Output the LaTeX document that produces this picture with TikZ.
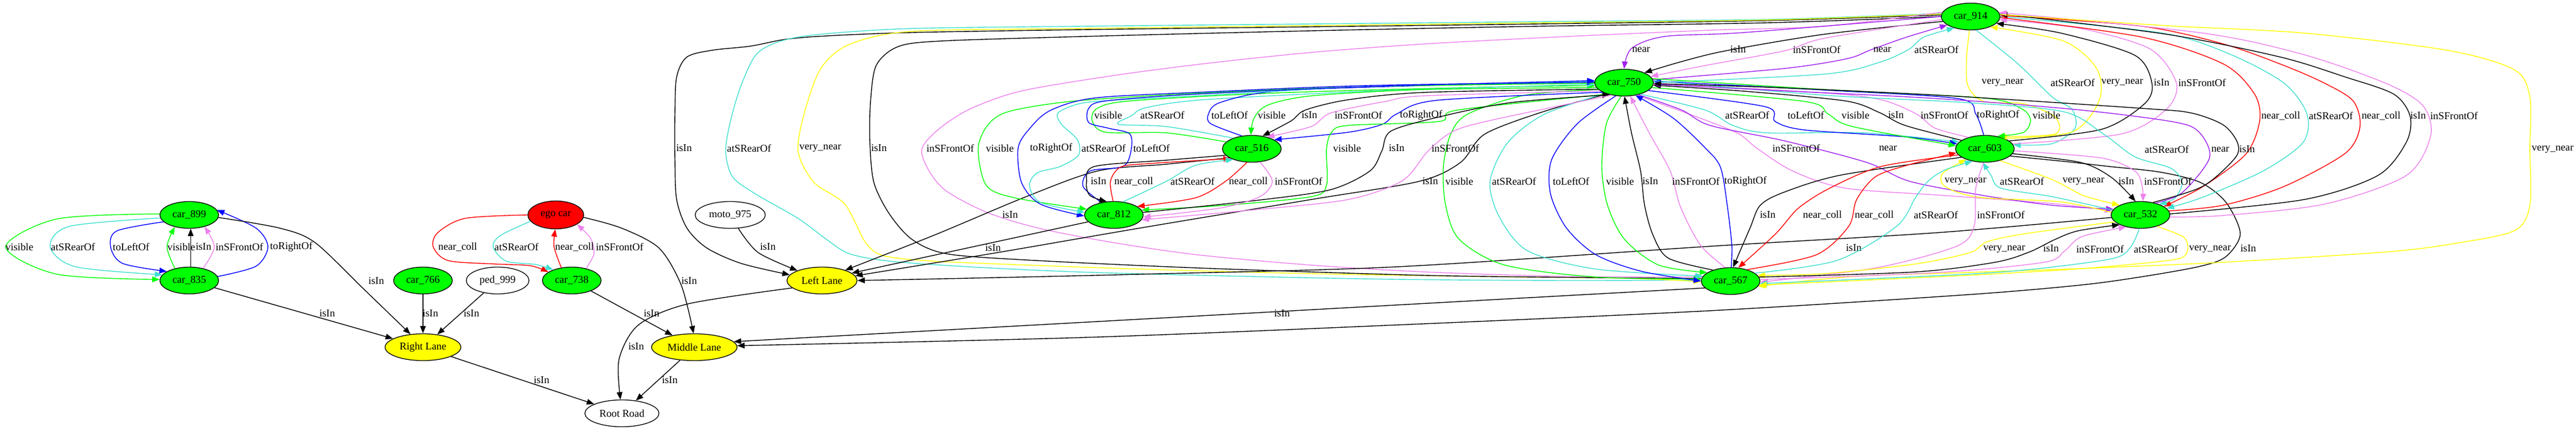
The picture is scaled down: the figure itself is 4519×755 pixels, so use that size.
\documentclass[tikz,border=0pt]{standalone}
\usepackage{fontspec}
\setmainfont{Liberation Serif}
\usetikzlibrary{shapes.geometric,arrows.meta}
\definecolor{gvgreen}{HTML}{00FF00}
\definecolor{gvyellow}{HTML}{FFFF00}
\definecolor{gvred}{HTML}{FF0000}
\definecolor{gvblue}{HTML}{0000FF}
\definecolor{gvturq}{HTML}{40E0D0}
\definecolor{gvviol}{HTML}{EE82EE}
\definecolor{gvpurp}{HTML}{A020F0}
\newcommand\gvfont{\fontsize{18.3}{20}\selectfont}
\newcommand\elab[3]{\node[lbl] (#1) at (#2) {#3};}
\tikzset{
  nd/.style={ellipse, draw=black, line width=1.3pt, minimum height=47pt, inner sep=0pt, font=\gvfont},
  car/.style={nd, fill=gvgreen, minimum width=103pt},
  lane/.style={nd, fill=gvyellow},
  wnode/.style={nd, fill=white},
  lbl/.style={font=\gvfont, inner sep=0pt},
  ed/.style={line width=1.4pt, -{Triangle[length=13pt,width=10pt]}},
  ek/.style={ed, draw=black},
  eg/.style={ed, draw=gvgreen},
  et/.style={ed, draw=gvturq},
  eb/.style={ed, draw=gvblue},
  ev/.style={ed, draw=gvviol},
  ep/.style={ed, draw=gvpurp},
  er/.style={ed, draw=gvred},
  ey/.style={ed, draw=gvyellow},
}
\begin{document}
\begin{tikzpicture}[x=1pt,y=-1pt]
\useasboundingbox[fill=white] (0,0) rectangle (4519,755);
% nodes
\node[car] (c914) at (3457,29) {car\_914};
\node[car] (c750) at (2849,145) {car\_750};
\node[car] (c516) at (2196,261) {car\_516};
\node[car] (c603) at (3482,261) {car\_603};
\node[car] (c812) at (1954,377) {car\_812};
\node[car] (c532) at (3755,377) {car\_532};
\node[car] (c899) at (332,377) {car\_899};
\node[nd, fill=gvred, minimum width=98pt, minimum height=49pt] (ego) at (975,377) {ego car};
\node[wnode, minimum width=123pt] (moto) at (1281,377) {moto\_975};
\node[car] (c835) at (332,492) {car\_835};
\node[car] (c766) at (742,492) {car\_766};
\node[wnode, minimum width=110pt] (ped) at (873,492) {ped\_999};
\node[car] (c738) at (1003,492) {car\_738};
\node[lane, minimum width=123pt] (left) at (1442,492) {Left Lane};
\node[car] (c567) at (3036,493) {car\_567};
\node[lane, minimum width=133pt] (right) at (742,609) {Right Lane};
\node[lane, minimum width=150pt] (middle) at (1218,609) {Middle Lane};
\node[wnode, minimum width=130pt] (root) at (1091,725) {Root Road};
% left cluster
\draw[eg] plot[smooth] coordinates {(c899.178) (100,384) (10,433) (100,481) (c835.178)};
\draw[et] plot[smooth] coordinates {(c899.186) (122,397) (88,433) (133,468) (c835.168)};
\draw[eb] plot[smooth] coordinates {(c899.195) (205,405) (194,433) (215,462) (c835.158)};
\draw[eg] plot[smooth] coordinates {(c835.140) (293,433) (c899.220)};
\draw[ek] (c835.84) -- (c899.276);
\draw[ev] plot[smooth] coordinates {(c835.41) (376,433) (c899.-38)};
\draw[eb] plot[smooth] coordinates {(c835.8) (449,467) (470,433) (449,400) (c899.10)};
\draw[ek] plot[smooth] coordinates {(c899.-5) (490,400) (552,425) (636,505) (right.134)};
\draw[ek] (c835) -- (right);
\draw[ek] (c766) -- (right);
\draw[ek] (ped) -- (right);
\draw[ek] (right) -- (root);
\elab{l1}{34,433}{visible}
\elab{l2}{128,433}{atSRearOf}
\elab{l3}{230,433}{toLeftOf}
\elab{l4}{318,433}{visible}
\elab{l5}{357,433}{isIn}
\elab{l6}{420,433}{inSFrontOf}
\elab{l7}{511,433}{toRightOf}
\elab{l8}{660,493}{isIn}
\elab{l9}{574,550}{isIn}
\elab{l10}{755,550}{isIn}
\elab{l11}{827,550}{isIn}
\elab{l12}{950,667}{isIn}
% ego cluster
\draw[er] plot[smooth] coordinates {(ego.180) (816,383) (768,408) (760,433) (786,457) (867,463) (930,466) (c738.160)};
\draw[et] plot[smooth] coordinates {(ego.194) (878,413) (865,433) (888,458) (940,464) (c738.150)};
\draw[er] plot[smooth] coordinates {(c738.129) (972,433) (ego.268)};
\draw[ev] plot[smooth] coordinates {(c738.40) (1042,445) (1036,418) (ego.-24)};
\draw[ek] plot[smooth] coordinates {(ego.-5) (1090,400) (1156,435) (1195,500) (middle.93)};
\draw[ek] (c738) -- (middle);
\draw[ek] plot[smooth] coordinates {(moto.-59) (1330,443) (left.158)};
\draw[ek] plot[smooth] coordinates {(left.194) (1207,533) (1120,570) (1086,630) (root.96)};
\draw[ek] (middle) -- (root);
\elab{l13}{803,433}{near\_coll}
\elab{l14}{906,433}{atSRearOf}
\elab{l15}{1008,433}{near\_coll}
\elab{l16}{1087,433}{inSFrontOf}
\elab{l17}{1209,493}{isIn}
\elab{l18}{1143,550}{isIn}
\elab{l19}{1347,433}{isIn}
\elab{l20}{1116,608}{isIn}
\elab{l21}{1175,667}{isIn}
% long edges from car_914 to the left
\draw[ek] plot[smooth] coordinates {(c914.177) (3100,36) (2700,42) (2300,47) (1900,52) (1600,57) (1450,63) (1378,69) (1316,81) (1250,88) (1205,100) (1187,135) (1184,200) (1184,280) (1187,350) (1205,400) (1240,435) (1300,462) (left.170)};
\draw[et] plot[smooth] coordinates {(c914.174) (3100,34) (2700,38) (2300,42) (1900,46) (1600,50) (1440,60) (1370,72) (1327,95) (1300,150) (1282,210) (1273,265) (1285,310) (1325,340) (1400,383) (1450,420) (1490,445) (1560,458) (1700,468) (1891,477) (2150,484) (2450,490) (2750,492) (c567.178)};
\draw[ey] plot[smooth] coordinates {(c914.175) (3100,35) (2700,40) (2300,45) (1900,50) (1600,55) (1490,78) (1440,120) (1412,195) (1400,265) (1428,320) (1482,358) (1518,425) (1548,448) (1620,457) (1751,463) (2000,472) (2300,480) (2600,485) (2850,488) (c567.181)};
\draw[ek] plot[smooth] coordinates {(c914.180) (3100,40) (2700,46) (2300,54) (1900,64) (1650,72) (1575,82) (1537,115) (1527,180) (1526,250) (1533,320) (1560,375) (1600,420) (1660,445) (1800,456) (2101,470) (2500,483) (2800,487) (c567.175)};
\draw[ev] plot[smooth] coordinates {(c914.171) (3200,46) (3000,53) (2750,64) (2500,77) (2300,92) (2110,112) (1950,133) (1790,160) (1700,192) (1645,228) (1617,262) (1630,300) (1660,335) (1730,372) (1821,400) (1950,425) (2101,447) (2300,465) (2500,477) (2750,485) (c567.172)};
\draw[ek] plot[smooth] coordinates {(c516.202) (2046,288) (1925,300) (1800,345) (1640,412) (left.24)};
\draw[ek] (c812.195) -- (left.14);
\draw[ek] plot[smooth] coordinates {(c750.214) (2710,195) (2605,235) (2562,285) (2490,318) (2300,350) (2000,400) (1750,443) (left.8)};
\draw[ek] plot[smooth] coordinates {(c532.185) (3400,408) (3000,432) (2450,468) (2000,481) (1700,488) (left.0)};
\draw[ek] (c567.195) -- (middle.8);
\draw[ek] plot[smooth] coordinates {(c603.-16) (3620,283) (3700,292) (3790,302) (3860,320) (3905,355) (3930,410) (3905,450) (3860,467) (3760,485) (3650,500) (3450,517) (3000,545) (2450,570) (1900,592) (middle.2)};
\elab{l22}{1200,260}{isIn}
\elab{l23}{1314,260}{atSRearOf}
\elab{l24}{1439,260}{very\_near}
\elab{l25}{1542,260}{isIn}
\elab{l26}{1667,260}{inSFrontOf}
\elab{l27}{1772,377}{isIn}
\elab{l28}{1742,435}{isIn}
\elab{l29}{2509,318}{isIn}
\elab{l30}{3252,435}{isIn}
\elab{l31}{2249,550}{isIn}
\elab{l32}{3944,436}{isIn}
% car_914 <-> car_750
\draw[ep] plot[smooth] coordinates {(c914.180) (3060,57) (2920,64) (2862,85) (c750.90)};
\draw[ek] plot[smooth] coordinates {(c914.190) (3201,60) (3028,89) (2950,108) (c750.26)};
\draw[ev] plot[smooth] coordinates {(c914.186) (3201,67) (3131,89) (2991,115) (c750.13)};
\draw[ep] plot[smooth] coordinates {(c750.6) (3131,120) (3240,103) (3283,87) (3345,65) (c914.200)};
\draw[et] plot[smooth] coordinates {(c750.0) (3200,130) (3295,110) (3348,87) (3375,65) (c914.215)};
\elab{l33}{2879,87}{near}
\elab{l34}{3049,87}{isIn}
\elab{l35}{3187,87}{inSFrontOf}
\elab{l36}{3302,87}{near}
\elab{l37}{3397,87}{atSRearOf}
% car_914 <-> car_603
\draw[ey] plot[smooth] coordinates {(c914.265) (3450,100) (3452,150) (3480,178) (3550,182) (3605,205) (3605,235) (c603.40)};
\draw[et] plot[smooth] coordinates {(c914.292) (3540,112) (3600,170) (3635,192) (3640,225) (3600,252) (c603.8)};
\draw[ey] plot[smooth] coordinates {(c603.28) (3636,231) (3683,175) (3678,120) (3620,72) (c914.-28)};
\draw[ek] plot[smooth] coordinates {(c603.18) (3686,227) (3762,182) (3775,146) (3745,97) (3615,58) (c914.-15)};
\draw[ev] plot[smooth] coordinates {(c603.10) (3721,235) (3800,192) (3818,146) (3772,86) (3650,50) (c914.-6)};
\elab{l38}{3513,145}{very\_near}
\elab{l39}{3636,145}{atSRearOf}
\elab{l40}{3723,145}{very\_near}
\elab{l41}{3792,145}{isIn}
\elab{l42}{3863,145}{inSFrontOf}
% car_914 <-> car_532
\draw[er] plot[smooth] coordinates {(c914.-2) (3757,65) (3900,112) (3955,165) (3964,212) (3940,270) (3865,327) (c532.20)};
\draw[et] plot[smooth] coordinates {(c914.0) (3793,58) (3914,96) (4007,146) (4047,200) (4040,250) (3970,300) (3864,346) (c532.14)};
\draw[er] plot[smooth] coordinates {(c532.8) (3900,360) (4007,327) (4114,269) (4140,222) (4128,177) (4078,146) (4007,115) (3900,77) (3757,46) (c914.2)};
\draw[ek] plot[smooth] coordinates {(c532.2) (4042,350) (4171,308) (4221,250) (4228,204) (4199,165) (4114,135) (4000,100) (3800,60) (c914.5)};
\draw[ev] plot[smooth] coordinates {(c532.-4) (3900,378) (4078,358) (4221,308) (4264,238) (4250,185) (4185,146) (4042,96) (3864,58) (c914.8)};
\draw[ey] plot[smooth] coordinates {(c914.4) (3800,45) (4042,58) (4292,88) (4410,122) (4438,170) (4438,260) (4438,360) (4410,405) (4300,428) (4185,442) (3900,460) (3650,471) (3450,478) (3250,485) (c567.-11)};
\elab{l43}{4001,203}{near\_coll}
\elab{l44}{4089,203}{atSRearOf}
\elab{l45}{4177,203}{near\_coll}
\elab{l46}{4242,203}{isIn}
\elab{l47}{4305,203}{inSFrontOf}
\elab{l48}{4478,262}{very\_near}
% car_750 <-> car_603
\draw[et] plot[smooth] coordinates {(c750.-35) (2991,193) (3040,220) (3100,233) (3270,233) (c603.165)};
\draw[eb] plot[smooth] coordinates {(c750.-18) (3096,187) (3114,213) (3166,228) (3342,240) (c603.170)};
\draw[eg] plot[smooth] coordinates {(c750.-10) (3166,178) (3207,200) (3250,222) (c603.174)};
\draw[ek] plot[smooth] coordinates {(c603.160) (3342,220) (3296,197) (3237,177) (3060,160) (c750.-5)};
\draw[ev] plot[smooth] coordinates {(c603.145) (3395,225) (3362,200) (3300,175) (3200,163) (c750.-1)};
\draw[eb] plot[smooth] coordinates {(c603.95) (3466,200) (3435,173) (3200,158) (c750.3)};
\draw[eg] plot[smooth] coordinates {(c750.8) (3200,157) (3480,172) (3545,190) (3562,210) (3550,232) (c603.45)};
\elab{l49}{3065,202}{atSRearOf}
\elab{l50}{3168,202}{toLeftOf}
\elab{l51}{3255,202}{visible}
\elab{l52}{3326,202}{isIn}
\elab{l53}{3411,202}{inSFrontOf}
\elab{l54}{3505,202}{toRightOf}
\elab{l55}{3590,202}{visible}
% car_750 <-> car_532
\draw[ev] plot[smooth] coordinates {(c750.-45) (2963,200) (3047,233) (3082,260) (3145,300) (3237,330) (3412,343) (3600,357) (c532.172)};
\draw[ep] plot[smooth] coordinates {(c750.-40) (2950,193) (3000,220) (3130,247) (3275,285) (3350,318) (3480,343) (3600,360) (c532.168)};
\draw[et] plot[smooth] coordinates {(c750.4) (3200,167) (3450,180) (3620,196) (3690,235) (3745,275) (3808,295) (3828,320) (3815,348) (c532.30)};
\draw[ep] plot[smooth] coordinates {(c532.38) (3828,338) (3876,277) (3858,232) (3814,214) (3650,193) (3400,173) (3100,158) (c750.-3)};
\draw[ek] plot[smooth] coordinates {(c532.45) (3864,327) (3921,277) (3925,250) (3900,219) (3843,198) (3757,190) (3400,167) (3100,153) (c750.-2)};
\elab{l56}{3151,260}{inSFrontOf}
\elab{l57}{3312,260}{near}
\elab{l58}{3801,262}{atSRearOf}
\elab{l59}{3895,262}{near}
\elab{l60}{3942,262}{isIn}
% car_603 <-> car_532
\draw[ey] plot[smooth] coordinates {(c532.175) (3614,354) (3471,346) (3412,327) (3408,304) (c603.210)};
\draw[et] plot[smooth] coordinates {(c532.170) (3600,345) (3510,330) (3493,308) (c603.262)};
\draw[ey] plot[smooth] coordinates {(c603.-38) (3600,315) (3655,343) (c532.155)};
\draw[ek] plot[smooth] coordinates {(c603.-10) (3650,285) (3705,312) (c532.110)};
\draw[ev] plot[smooth] coordinates {(c603.-4) (3686,277) (3745,300) (3758,327) (c532.80)};
\elab{l61}{3448,318}{very\_near}
\elab{l62}{3547,318}{atSRearOf}
\elab{l63}{3655,318}{very\_near}
\elab{l64}{3730,318}{isIn}
\elab{l65}{3803,318}{inSFrontOf}
% car_603 <-> car_567
\draw[ek] plot[smooth] coordinates {(c603.200) (3230,307) (3130,337) (3088,360) (3070,400) (c567.80)};
\draw[er] plot[smooth] coordinates {(c603.193) (3300,292) (3210,330) (3155,365) (3115,410) (c567.60)};
\draw[er] plot[smooth] coordinates {(c567.35) (3186,447) (3243,397) (3257,350) (3290,310) (3345,290) (c603.188)};
\draw[et] plot[smooth] coordinates {(c567.18) (3222,457) (3327,397) (3360,347) (3382,318) (3412,298) (c603.225)};
\draw[ev] plot[smooth] coordinates {(c603.-95) (3466,330) (3463,397) (3432,432) (3290,470) (c567.-2)};
\elab{l66}{3101,377}{isIn}
\elab{l67}{3197,377}{near\_coll}
\elab{l68}{3288,377}{near\_coll}
\elab{l69}{3396,377}{atSRearOf}
\elab{l70}{3510,377}{inSFrontOf}
% car_532 <-> car_567
\draw[ey] plot[smooth] coordinates {(c532.195) (3552,410) (3486,424) (3456,443) (3360,463) (3200,480) (c567.12)};
\draw[ek] plot[smooth] coordinates {(c567.8) (3360,477) (3500,460) (3560,442) (3605,420) (3645,405) (c532.205)};
\draw[ev] plot[smooth] coordinates {(c567.3) (3400,478) (3586,460) (3622,440) (3652,415) (c532.220)};
\draw[et] plot[smooth] coordinates {(c532.265) (3738,433) (3708,453) (3586,470) (3450,481) (c567.-5)};
\draw[ey] plot[smooth] coordinates {(c532.-35) (3832,417) (3836,443) (3810,456) (3654,471) (3450,483) (c567.-8)};
\elab{l71}{3516,437}{very\_near}
\elab{l72}{3598,436}{isIn}
\elab{l73}{3684,437}{inSFrontOf}
\elab{l74}{3782,437}{atSRearOf}
\elab{l75}{3877,437}{very\_near}
% car_750 <-> car_567
\draw[eg] plot[smooth] coordinates {(c750.195) (2675,167) (2575,200) (2545,235) (2532,293) (2536,360) (2560,420) (2640,465) (2800,486) (c567.176)};
\draw[et] plot[smooth] coordinates {(c750.210) (2710,200) (2645,250) (2614,318) (2630,380) (2680,440) (2800,472) (c567.170)};
\draw[eb] plot[smooth] coordinates {(c750.238) (2767,217) (2722,280) (2720,340) (2748,400) (2800,447) (2880,476) (c567.180)};
\draw[eg] plot[smooth] coordinates {(c750.258) (2818,217) (2810,293) (2820,360) (2850,420) (2910,465) (c567.160)};
\draw[ek] plot[smooth] coordinates {(c567.148) (2927,453) (2900,413) (2885,360) (2878,300) (2862,233) (c750.272)};
\draw[ev] plot[smooth] coordinates {(c567.112) (2983,430) (2948,363) (2930,300) (2893,233) (c750.295)};
\draw[eb] plot[smooth] coordinates {(c567.88) (3038,430) (3030,360) (3018,293) (2990,258) (2935,207) (c750.-48)};
\elab{l76}{2560,318}{visible}
\elab{l77}{2656,318}{atSRearOf}
\elab{l78}{2756,318}{toLeftOf}
\elab{l79}{2842,318}{visible}
\elab{l80}{2895,318}{isIn}
\elab{l81}{2975,318}{inSFrontOf}
\elab{l82}{3062,318}{toRightOf}
% car_750 <-> car_516
\draw[eg] plot[smooth] coordinates {(c516.165) (2046,233) (1940,232) (1916,212) (1925,190) (1983,177) (2238,163) (2600,153) (c750.186)};
\draw[et] plot[smooth] coordinates {(c516.150) (2046,222) (1962,218) (1985,203) (2010,189) (2110,175) (2400,160) (2650,152) (c750.183)};
\draw[eb] plot[smooth] coordinates {(c516.128) (2124,217) (2120,200) (2140,180) (2238,160) (2500,150) (c750.179)};
\draw[eg] plot[smooth] coordinates {(c750.190) (2500,157) (2302,168) (2225,184) (2200,207) (c516.94)};
\draw[ek] plot[smooth] coordinates {(c750.194) (2500,162) (2365,175) (2290,193) (2265,212) (c516.50)};
\draw[ev] plot[smooth] coordinates {(c750.199) (2500,168) (2430,178) (2335,198) (2300,222) (c516.38)};
\draw[eb] plot[smooth] coordinates {(c750.204) (2520,176) (2450,200) (2425,218) (2365,232) (c516.22)};
\elab{l83}{1944,202}{visible}
\elab{l84}{2039,202}{atSRearOf}
\elab{l85}{2157,202}{toLeftOf}
\elab{l86}{2231,202}{visible}
\elab{l87}{2297,202}{isIn}
\elab{l88}{2383,202}{inSFrontOf}
\elab{l89}{2493,202}{toRightOf}
% car_750 <-> car_812
\draw[eg] plot[smooth] coordinates {(c750.181) (2400,152) (2110,163) (1887,177) (1772,195) (1734,218) (1716,260) (1730,325) (1780,347) (c812.168)};
\draw[eb] plot[smooth] coordinates {(c750.179) (2400,150) (2100,162) (1919,172) (1842,194) (1805,227) (1786,260) (1792,320) (1825,358) (c812.182)};
\draw[et] plot[smooth] coordinates {(c750.177) (2400,152) (2100,168) (1950,176) (1893,182) (1856,198) (1862,218) (1890,245) (1892,272) (1860,292) (1820,303) (1806,325) (1825,355) (c812.175)};
\draw[eb] plot[smooth] coordinates {(c812.135) (1900,327) (1912,300) (1970,292) (1984,265) (1982,235) (1945,225) (1910,215) (1910,190) (1940,177) (2100,165) (2400,152) (c750.176)};
\draw[eg] plot[smooth] coordinates {(c750.215) (2557,193) (2525,213) (2365,220) (2336,232) (2327,262) (2327,325) (2300,345) (2150,360) (c812.10)};
\draw[ek] plot[smooth] coordinates {(c812.5) (2200,352) (2333,333) (2403,300) (2424,265) (2440,230) (2525,205) (2650,180) (c750.220)};
\draw[ev] plot[smooth] coordinates {(c750.225) (2620,210) (2550,230) (2505,265) (2460,317) (2365,350) (2200,368) (c812.-10)};
\elab{l90}{1754,260}{visible}
\elab{l91}{1844,260}{toRightOf}
\elab{l92}{1936,260}{atSRearOf}
\elab{l93}{2020,260}{toLeftOf}
\elab{l94}{2363,260}{visible}
\elab{l95}{2450,260}{isIn}
\elab{l96}{2553,260}{inSFrontOf}
% car_516 <-> car_812
\draw[ek] plot[smooth] coordinates {(c516.194) (2046,281) (1920,292) (1906,320) (1912,343) (c812.118)};
\draw[er] plot[smooth] coordinates {(c812.93) (1948,318) (1966,293) (2015,287) (c516.205)};
\draw[et] plot[smooth] coordinates {(c812.55) (2046,318) (2097,290) (c516.210)};
\draw[er] plot[smooth] coordinates {(c516.250) (2150,318) (2097,347) (c812.20)};
\draw[ev] plot[smooth] coordinates {(c516.-58) (2232,318) (2210,345) (2140,365) (c812.-4)};
\elab{l97}{1927,318}{isIn}
\elab{l98}{1989,318}{near\_coll}
\elab{l99}{2092,318}{atSRearOf}
\elab{l100}{2190,318}{near\_coll}
\elab{l101}{2278,318}{inSFrontOf}
\end{tikzpicture}
\end{document}
